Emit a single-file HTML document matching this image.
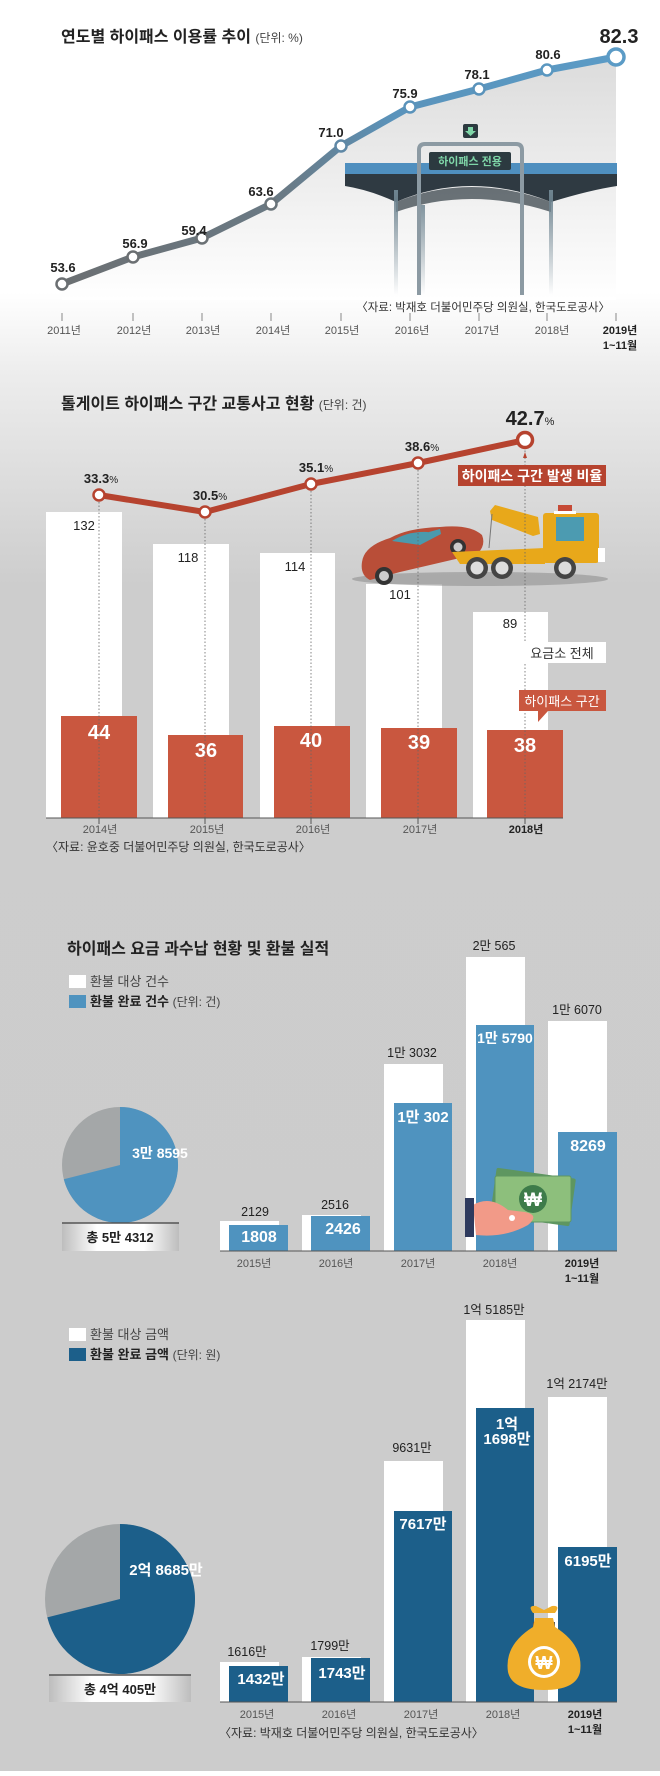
<!DOCTYPE html>
<html><head><meta charset="utf-8"><style>
html,body{margin:0;padding:0}
body{width:660px;height:1771px;overflow:hidden;font-family:"Liberation Sans","Noto Sans CJK KR",sans-serif}
svg text{font-family:"Liberation Sans","Noto Sans CJK KR",sans-serif}
</style></head><body>
<svg width="660" height="1771" viewBox="0 0 660 1771" xmlns="http://www.w3.org/2000/svg">
<defs>
<linearGradient id="bg" x1="0" y1="0" x2="0" y2="1771" gradientUnits="userSpaceOnUse">
<stop offset="0" stop-color="#ffffff"/><stop offset="0.165" stop-color="#ffffff"/>
<stop offset="0.21" stop-color="#ededed"/><stop offset="0.33" stop-color="#cdcdcd"/><stop offset="1" stop-color="#cccccc"/>
</linearGradient>
<linearGradient id="ln1" x1="62" y1="0" x2="616" y2="0" gradientUnits="userSpaceOnUse">
<stop offset="0" stop-color="#6b6f72"/><stop offset="0.4" stop-color="#6a7a85"/><stop offset="0.6" stop-color="#5a93bb"/><stop offset="1" stop-color="#5b9bc6"/>
</linearGradient>
<linearGradient id="fill1" x1="0" y1="60" x2="0" y2="300" gradientUnits="userSpaceOnUse">
<stop offset="0" stop-color="#dcdcdc"/><stop offset="1" stop-color="#ffffff"/>
</linearGradient>
<linearGradient id="box" x1="0" y1="0" x2="1" y2="0">
<stop offset="0" stop-color="#bdbdbd"/><stop offset="0.3" stop-color="#ffffff"/><stop offset="0.7" stop-color="#ffffff"/><stop offset="1" stop-color="#bdbdbd"/>
</linearGradient>
<linearGradient id="pil" x1="0" y1="190" x2="0" y2="295" gradientUnits="userSpaceOnUse">
<stop offset="0" stop-color="#6f8591"/><stop offset="1" stop-color="#6f8591" stop-opacity="0"/>
</linearGradient>
</defs>
<rect width="660" height="1771" fill="url(#bg)"/>

<!-- CHART 1 -->
<text x="61" y="42" font-size="16" font-weight="bold" fill="#222">연도별 하이패스 이용률 추이 <tspan font-size="12" font-weight="normal" fill="#444">(단위: %)</tspan></text>
<path d="M62,284 L133,257 L202,238 L271,204 L341,146 L410,107 L479,89 L547,70 L616,57 L616,300 L62,300 Z" fill="url(#fill1)"/>
<rect x="345" y="163" width="272" height="11" fill="#4f8fbf"/>
<path d="M345,174 L617,174 L617,186 Q590,190 551,202 Q470,170 396,202 Q370,190 345,186 Z" fill="#2f3a42"/>
<path d="M396,202 Q470,172 551,202 L551,212 Q470,186 396,212 Z" fill="#2f3a42" opacity="0.7"/>
<rect x="394" y="190" width="4" height="105" fill="url(#pil)"/>
<rect x="421" y="205" width="4" height="90" fill="url(#pil)"/>
<rect x="520" y="205" width="4" height="90" fill="url(#pil)"/>
<rect x="549" y="190" width="4" height="105" fill="url(#pil)"/>
<path d="M419,295 L419,150 Q419,144 425,144 L516,144 Q522,144 522,150 L522,295" fill="none" stroke="#8c9aa3" stroke-width="4"/>
<rect x="429" y="152" width="82" height="18" rx="2" fill="#2c3a40"/>
<text x="470" y="165" font-size="11" font-weight="bold" fill="#7fd6a8" text-anchor="middle">하이패스 전용</text>
<rect x="463" y="124" width="15" height="14" rx="2" fill="#2c3a40"/>
<path d="M468,127 L473,127 L473,131 L476,131 L470.5,136 L465,131 L468,131 Z" fill="#7fd6a8"/>
<polyline points="62,284 133,257 202,238 271,204 341,146 410,107 479,89 547,70 616,57" fill="none" stroke="url(#ln1)" stroke-width="7" stroke-linejoin="round"/>
<g fill="#fff" stroke-width="2.5">
<circle cx="62" cy="284" r="5.5" stroke="#6b6f72"/><circle cx="133" cy="257" r="5.5" stroke="#6b6f72"/>
<circle cx="202" cy="238" r="5.5" stroke="#6b7175"/><circle cx="271" cy="204" r="5.5" stroke="#6a747a"/>
<circle cx="341" cy="146" r="5.5" stroke="#5f88a6"/><circle cx="410" cy="107" r="5.5" stroke="#5a93bb"/>
<circle cx="479" cy="89" r="5.5" stroke="#5a93bb"/><circle cx="547" cy="70" r="5.5" stroke="#5a97c0"/>
<circle cx="616" cy="57" r="8" stroke="#5b9bc6" stroke-width="3.5"/>
</g>
<g font-size="13" font-weight="bold" fill="#222" text-anchor="middle">
<text x="63" y="272">53.6</text><text x="135" y="248">56.9</text><text x="194" y="235">59.4</text>
<text x="261" y="196">63.6</text><text x="331" y="137">71.0</text><text x="405" y="98">75.9</text>
<text x="477" y="79">78.1</text><text x="548" y="59">80.6</text>
<text x="619" y="43" font-size="20">82.3</text>
</g>
<text x="610" y="311" font-size="11.5" fill="#333" text-anchor="end">〈자료: 박재호 더불어민주당 의원실, 한국도로공사〉</text>
<g stroke="#888" stroke-width="1"><line x1="62" y1="313" x2="62" y2="321"/><line x1="133" y1="313" x2="133" y2="321"/><line x1="202" y1="313" x2="202" y2="321"/><line x1="271" y1="313" x2="271" y2="321"/><line x1="341" y1="313" x2="341" y2="321"/><line x1="410" y1="313" x2="410" y2="321"/><line x1="479" y1="313" x2="479" y2="321"/><line x1="547" y1="313" x2="547" y2="321"/><line x1="616" y1="313" x2="616" y2="321"/></g>
<g font-size="11" fill="#555" text-anchor="middle">
<text x="64" y="334">2011년</text><text x="134" y="334">2012년</text><text x="203" y="334">2013년</text><text x="273" y="334">2014년</text><text x="342" y="334">2015년</text><text x="412" y="334">2016년</text><text x="482" y="334">2017년</text><text x="552" y="334">2018년</text>
<text x="620" y="334" font-weight="bold" fill="#222">2019년</text><text x="620" y="349" font-weight="bold" fill="#222">1~11월</text>
</g>

<!-- CHART 2 -->
<text x="61" y="409" font-size="16" font-weight="bold" fill="#222">톨게이트 하이패스 구간 교통사고 현황 <tspan font-size="12" font-weight="normal" fill="#444">(단위: 건)</tspan></text>
<g fill="#fff">
<rect x="46" y="512" width="76" height="306"/><rect x="153" y="544" width="76" height="274"/>
<rect x="260" y="553" width="75" height="265"/><rect x="366" y="584" width="76" height="234"/>
<rect x="473" y="612" width="75" height="206"/>
</g>
<g fill="#c9573f">
<rect x="61" y="716" width="76" height="102"/><rect x="168" y="735" width="75" height="83"/>
<rect x="274" y="726" width="76" height="92"/><rect x="381" y="728" width="76" height="90"/>
<rect x="487" y="730" width="76" height="88"/>
</g>
<g font-size="13" fill="#222" text-anchor="middle">
<text x="84" y="530">132</text><text x="188" y="562">118</text><text x="295" y="571">114</text><text x="400" y="599">101</text><text x="510" y="628">89</text>
</g>
<g font-size="20" font-weight="bold" fill="#fff" text-anchor="middle">
<text x="99" y="739">44</text><text x="206" y="757">36</text><text x="311" y="747">40</text><text x="419" y="749">39</text><text x="525" y="752">38</text>
</g>
<!-- tow truck -->
<ellipse cx="480" cy="579" rx="128" ry="7" fill="#9a9a9a" opacity="0.7"/>
<path d="M362,562 Q364,546 390,538 Q408,528 440,527 Q470,524 482,535 Q486,545 478,553 L460,558 L400,572 L370,580 Q360,575 362,562 Z" fill="#b94e38"/>
<path d="M392,541 Q408,531 428,532 L420,545 Z" fill="#4a9aad"/>
<path d="M407,538 L440,529 L441,534 L420,545 Z" fill="#4a9aad"/>
<circle cx="384" cy="576" r="9" fill="#333"/><circle cx="384" cy="576" r="5" fill="#ccc"/>
<circle cx="458" cy="547" r="8" fill="#333"/><circle cx="458" cy="547" r="4.5" fill="#ccc"/>
<path d="M490,511 L495,505 L538,517 L540,534 L533,536 L492,520 Z" fill="#e8a81a"/>
<line x1="492" y1="514" x2="489" y2="548" stroke="#777" stroke-width="1"/>
<rect x="543" y="513" width="56" height="50" rx="3" fill="#e8a81a"/>
<rect x="556" y="517" width="28" height="24" fill="#4c9bb1"/>
<rect x="558" y="505" width="14" height="8" fill="#c64a36"/>
<rect x="554" y="511" width="22" height="3" fill="#fff"/>
<rect x="598" y="548" width="7" height="14" fill="#fff"/>
<path d="M452,552 L545,548 L545,564 L460,564 Z" fill="#e8a81a"/>
<circle cx="477" cy="568" r="11" fill="#444"/><circle cx="477" cy="568" r="6.5" fill="#ddd"/>
<circle cx="502" cy="568" r="11" fill="#444"/><circle cx="502" cy="568" r="6.5" fill="#ddd"/>
<circle cx="565" cy="568" r="11" fill="#444"/><circle cx="565" cy="568" r="6.5" fill="#ddd"/>
<g stroke="#666" stroke-width="0.8" stroke-dasharray="1.5,2">
<line x1="99" y1="495" x2="99" y2="818"/><line x1="205" y1="512" x2="205" y2="818"/><line x1="311" y1="484" x2="311" y2="818"/><line x1="418" y1="463" x2="418" y2="818"/><line x1="525" y1="440" x2="525" y2="818"/>
</g>
<polyline points="99,495 205,512 311,484 418,463 525,440" fill="none" stroke="#b6432f" stroke-width="6" stroke-linejoin="round"/>
<g fill="#fff" stroke="#b6432f" stroke-width="2.5">
<circle cx="99" cy="495" r="5.5"/><circle cx="205" cy="512" r="5.5"/><circle cx="311" cy="484" r="5.5"/><circle cx="418" cy="463" r="5.5"/><circle cx="525" cy="440" r="7.5" stroke-width="3.5"/>
</g>
<g font-size="13" font-weight="bold" fill="#222" text-anchor="middle">
<text x="101" y="483">33.3<tspan font-size="10" font-weight="normal">%</tspan></text>
<text x="210" y="500">30.5<tspan font-size="10" font-weight="normal">%</tspan></text>
<text x="316" y="472">35.1<tspan font-size="10" font-weight="normal">%</tspan></text>
<text x="422" y="451">38.6<tspan font-size="10" font-weight="normal">%</tspan></text>
<text x="530" y="425" font-size="20">42.7<tspan font-size="11" font-weight="normal">%</tspan></text>
</g>
<path d="M523,458 L525,452 L527,458 Z" fill="#b6432f"/>
<rect x="458" y="465" width="148" height="21" fill="#b6432f"/>
<text x="532" y="481" font-size="14" font-weight="bold" fill="#fff" text-anchor="middle">하이패스 구간 발생 비율</text>
<rect x="519" y="642" width="87" height="21" fill="#fff"/>
<text x="562" y="658" font-size="13" fill="#333" text-anchor="middle">요금소 전체</text>
<rect x="519" y="690" width="87" height="21" fill="#c9573f"/>
<path d="M538,711 L548,711 L538,722 Z" fill="#c9573f"/>
<text x="562" y="706" font-size="13" fill="#fff" text-anchor="middle">하이패스 구간</text>
<line x1="46" y1="818" x2="563" y2="818" stroke="#555" stroke-width="1"/>
<g stroke="#555"><line x1="99" y1="818" x2="99" y2="824"/><line x1="205" y1="818" x2="205" y2="824"/><line x1="311" y1="818" x2="311" y2="824"/><line x1="418" y1="818" x2="418" y2="824"/><line x1="525" y1="818" x2="525" y2="824"/></g>
<g font-size="11" fill="#555" text-anchor="middle">
<text x="100" y="833">2014년</text><text x="207" y="833">2015년</text><text x="313" y="833">2016년</text><text x="420" y="833">2017년</text><text x="526" y="833" font-weight="bold" fill="#222">2018년</text>
</g>
<text x="46" y="851" font-size="12" fill="#333">〈자료: 윤호중 더불어민주당 의원실, 한국도로공사〉</text>

<!-- CHART 3 -->
<text x="67" y="954" font-size="16" font-weight="bold" fill="#222">하이패스 요금 과수납 현황 및 환불 실적</text>
<rect x="69" y="975" width="17" height="13" fill="#fff"/>
<text x="90" y="986" font-size="13" fill="#444">환불 대상 건수</text>
<rect x="69" y="995" width="17" height="13" fill="#4f93bf"/>
<text x="90" y="1006" font-size="13" font-weight="bold" fill="#222">환불 완료 건수 <tspan font-weight="normal" font-size="12" fill="#444">(단위: 건)</tspan></text>
<g fill="#fff">
<rect x="220" y="1221" width="59" height="30"/><rect x="302" y="1215" width="59" height="36"/><rect x="384" y="1064" width="59" height="187"/><rect x="466" y="957" width="59" height="294"/><rect x="548" y="1021" width="59" height="230"/>
</g>
<g fill="#4f93bf">
<rect x="229" y="1225" width="59" height="26"/><rect x="311" y="1216" width="59" height="35"/><rect x="394" y="1103" width="58" height="148"/><rect x="476" y="1025" width="58" height="226"/><rect x="558" y="1132" width="59" height="119"/>
</g>
<line x1="220" y1="1251" x2="617" y2="1251" stroke="#555"/>
<rect x="493" y="1173" width="80" height="48" rx="2" fill="#5e9660" transform="rotate(8 533 1197)"/>
<rect x="495" y="1176" width="76" height="46" rx="2" fill="#8dbf7c" stroke="#5e9660"/>
<circle cx="533" cy="1199" r="14" fill="#3e7c4a"/>
<text x="533" y="1206" font-size="19" font-weight="bold" fill="#fff" text-anchor="middle">₩</text>
<path d="M473,1205 Q490,1195 508,1210 L525,1212 Q540,1215 528,1225 Q505,1238 476,1235 Z" fill="#f29a88"/>
<circle cx="512" cy="1218" r="3" fill="#fff"/>
<rect x="465" y="1198" width="9" height="39" fill="#2e3a5e"/>
<g font-size="12.5" fill="#222" text-anchor="middle">
<text x="255" y="1216">2129</text><text x="335" y="1209">2516</text><text x="412" y="1057">1만 3032</text><text x="494" y="950">2만 565</text><text x="577" y="1014">1만 6070</text>
</g>
<g font-size="16" font-weight="bold" fill="#fff" text-anchor="middle">
<text x="259" y="1242">1808</text><text x="343" y="1234">2426</text><text x="423" y="1122" font-size="15">1만 302</text><text x="505" y="1043" font-size="14">1만 5790</text><text x="588" y="1151">8269</text>
</g>
<g font-size="11" fill="#555" text-anchor="middle">
<text x="254" y="1267">2015년</text><text x="336" y="1267">2016년</text><text x="418" y="1267">2017년</text><text x="500" y="1267">2018년</text>
<text x="582" y="1267" font-weight="bold" fill="#222">2019년</text><text x="582" y="1282" font-weight="bold" fill="#222">1~11월</text>
</g>
<circle cx="120" cy="1165" r="58" fill="#a4a7a8"/>
<path d="M120,1165 L120,1107 A58,58 0 1 1 63.8,1179.2 Z" fill="#4f93bf"/>
<text x="160" y="1158" font-size="14" font-weight="bold" fill="#fff" text-anchor="middle">3만 8595</text>
<rect x="62" y="1223" width="117" height="28" fill="url(#box)"/>
<line x1="62" y1="1223" x2="179" y2="1223" stroke="#555" stroke-width="1.5"/>
<text x="120" y="1242" font-size="13" font-weight="bold" fill="#222" text-anchor="middle">총 5만 4312</text>

<!-- CHART 4 -->
<rect x="69" y="1328" width="17" height="13" fill="#fff"/>
<text x="90" y="1339" font-size="13" fill="#444">환불 대상 금액</text>
<rect x="69" y="1348" width="17" height="13" fill="#1c5f8a"/>
<text x="90" y="1359" font-size="13" font-weight="bold" fill="#222">환불 완료 금액 <tspan font-weight="normal" font-size="12" fill="#444">(단위: 원)</tspan></text>
<g fill="#fff">
<rect x="220" y="1662" width="59" height="40"/><rect x="302" y="1657" width="59" height="45"/><rect x="384" y="1461" width="59" height="241"/><rect x="466" y="1320" width="59" height="382"/><rect x="548" y="1397" width="59" height="305"/>
</g>
<g fill="#1c5f8a">
<rect x="229" y="1666" width="59" height="36"/><rect x="311" y="1658" width="59" height="44"/><rect x="394" y="1511" width="58" height="191"/><rect x="476" y="1408" width="58" height="294"/><rect x="558" y="1547" width="59" height="155"/>
</g>
<line x1="220" y1="1702" x2="617" y2="1702" stroke="#555"/>
<path d="M533,1613 Q527,1605 536,1606 L544,1610 L552,1606 Q561,1605 555,1613 Z" fill="#f0ae2a"/>
<rect x="533" y="1622" width="22" height="5" fill="#555"/>
<path d="M535,1618 L553,1618 L555,1627 Q584,1645 580,1672 Q576,1690 544,1690 Q512,1690 508,1672 Q504,1645 533,1627 Z" fill="#f0ae2a"/>
<circle cx="544" cy="1662" r="16" fill="#fff"/>
<circle cx="544" cy="1662" r="13" fill="#f0ae2a"/>
<text x="544" y="1669" font-size="18" font-weight="bold" fill="#fff" text-anchor="middle">₩</text>
<g font-size="12.5" fill="#222" text-anchor="middle">
<text x="247" y="1656">1616만</text><text x="330" y="1650">1799만</text><text x="412" y="1452">9631만</text><text x="494" y="1314">1억 5185만</text><text x="577" y="1388">1억 2174만</text>
</g>
<g font-size="15" font-weight="bold" fill="#fff" text-anchor="middle">
<text x="261" y="1684">1432만</text><text x="342" y="1678">1743만</text><text x="423" y="1529">7617만</text><text x="507" y="1429">1억</text><text x="507" y="1444">1698만</text><text x="588" y="1566">6195만</text>
</g>
<g font-size="11" fill="#555" text-anchor="middle">
<text x="257" y="1718">2015년</text><text x="339" y="1718">2016년</text><text x="421" y="1718">2017년</text><text x="503" y="1718">2018년</text>
<text x="585" y="1718" font-weight="bold" fill="#222">2019년</text><text x="585" y="1733" font-weight="bold" fill="#222">1~11월</text>
</g>
<text x="219" y="1737" font-size="12" fill="#333">〈자료: 박재호 더불어민주당 의원실, 한국도로공사〉</text>
<circle cx="120" cy="1599" r="75" fill="#a4a7a8"/>
<path d="M120,1599 L120,1524 A75,75 0 1 1 47.3,1617.4 Z" fill="#1c5f8a"/>
<text x="166" y="1575" font-size="15" font-weight="bold" fill="#fff" text-anchor="middle">2억 8685만</text>
<rect x="49" y="1675" width="142" height="27" fill="url(#box)"/>
<line x1="49" y1="1675" x2="191" y2="1675" stroke="#555" stroke-width="1.5"/>
<text x="120" y="1694" font-size="13" font-weight="bold" fill="#222" text-anchor="middle">총 4억 405만</text>
</svg>
</body></html>
